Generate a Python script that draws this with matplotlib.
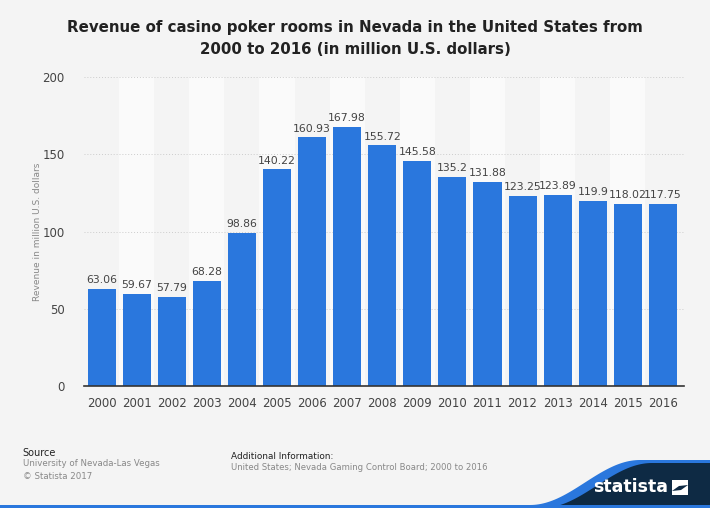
import numpy as np
import matplotlib.pyplot as plt
from matplotlib.patches import Polygon

# data
years = [str(y) for y in range(2000, 2017)]
revenue = [63.06, 59.67, 57.79, 68.28, 98.86, 140.22, 160.93, 167.98, 155.72,
           145.58, 135.2, 131.88, 123.25, 123.89, 119.9, 118.02, 117.75]
labels = ["63.06", "59.67", "57.79", "68.28", "98.86", "140.22", "160.93", "167.98",
          "155.72", "145.58", "135.2", "131.88", "123.25", "123.89", "119.9", "118.02", "117.75"]
yticks = [0, 50, 100, 150, 200]

bg = "#f4f4f4"
bar_color = "#2a77dd"
txt = "#444444"

fig = plt.figure(figsize=(7.1, 5.08), dpi=100, facecolor=bg)
ax = fig.add_axes([0.1183, 0.2402, 0.845, 0.608])
ax.set_facecolor(bg)

x = np.arange(len(years))

# alternating background bands
for i in x:
    if i % 2 == 1:
        ax.axvspan(i - 0.5, i + 0.5, color="#fafafa", zorder=0, lw=0)

for t in yticks[1:]:
    ax.axhline(t, color="#cccccc", lw=0.7, ls=(0, (1, 2)), zorder=1)

ax.bar(x, revenue, width=0.8, color=bar_color, zorder=2)
for xi, v, lab in zip(x, revenue, labels):
    ax.text(xi, v + 2.5, lab, ha="center", va="bottom", fontsize=7.8, color=txt, zorder=3)

ax.set_xlim(-0.5, 16.6)
ax.set_ylim(0, 200)
ax.set_xticks(x)
ax.set_xticklabels(years, fontsize=8.5, color=txt)
ax.set_yticks(yticks)
ax.set_yticklabels([str(t) for t in yticks], fontsize=8.5, color=txt)
ax.tick_params(length=0, pad=8)
ax.tick_params(axis="y", pad=14)
for s in ["top", "right", "left"]:
    ax.spines[s].set_visible(False)
ax.spines["bottom"].set_color("#333333")
ax.spines["bottom"].set_linewidth(1.2)
ax.set_ylabel("Revenue in million U.S. dollars", fontsize=6.5, color="#888888", labelpad=0)

fig.text(0.5, 0.924, "Revenue of casino poker rooms in Nevada in the United States from\n2000 to 2016 (in million U.S. dollars)",
         ha="center", va="center", fontsize=10.8, fontweight="bold", color="#222222", linespacing=1.55)

# footer
fig.text(0.032, 0.102, "Source", fontsize=7, color="#222222")
fig.text(0.032, 0.097, "University of Nevada-Las Vegas\n\u00a9 Statista 2017", fontsize=6.2, color="#888888",
         va="top", linespacing=1.6)
fig.text(0.325, 0.097, "Additional Information:", fontsize=6.4, color="#222222")
fig.text(0.325, 0.088, "United States; Nevada Gaming Control Board; 2000 to 2016", fontsize=6.15, color="#888888",
         va="top")

# logo shape
lx = fig.add_axes([0, 0, 1, 1], zorder=5)
lx.set_xlim(0, 710)
lx.set_ylim(508, 0)
lx.axis("off")
xs = np.linspace(530, 640, 50)
curve = 508 - (508 - 463) * (1 - np.cos(np.pi * (xs - 530) / 110)) / 2
blue_pts = list(zip(xs, curve - 3)) + [(710, 460), (710, 508), (530, 508)]
lx.add_patch(Polygon(blue_pts, closed=True, color="#2a77dd", lw=0))
navy_pts = list(zip(xs + 12, curve)) + [(710, 463), (710, 508), (542, 508)]
lx.add_patch(Polygon(navy_pts, closed=True, color="#0e2a44", lw=0))
lx.add_patch(Polygon([(0, 505), (710, 505), (710, 508), (0, 508)], closed=True, color="#2a77dd", lw=0))
lx.text(631, 487, "statista", fontsize=12.5, color="white", fontweight="bold", ha="center", va="center",
        family="Liberation Sans Narrow")
lx.add_patch(Polygon([(672, 480), (688, 480), (688, 495), (672, 495)], closed=True, color="white", lw=0))
lx.add_patch(Polygon([(672, 491), (679, 486), (688, 485), (681, 490)], closed=True, color="#0e2a44", lw=0))

fig.savefig("out.png", dpi=100, facecolor=bg)
